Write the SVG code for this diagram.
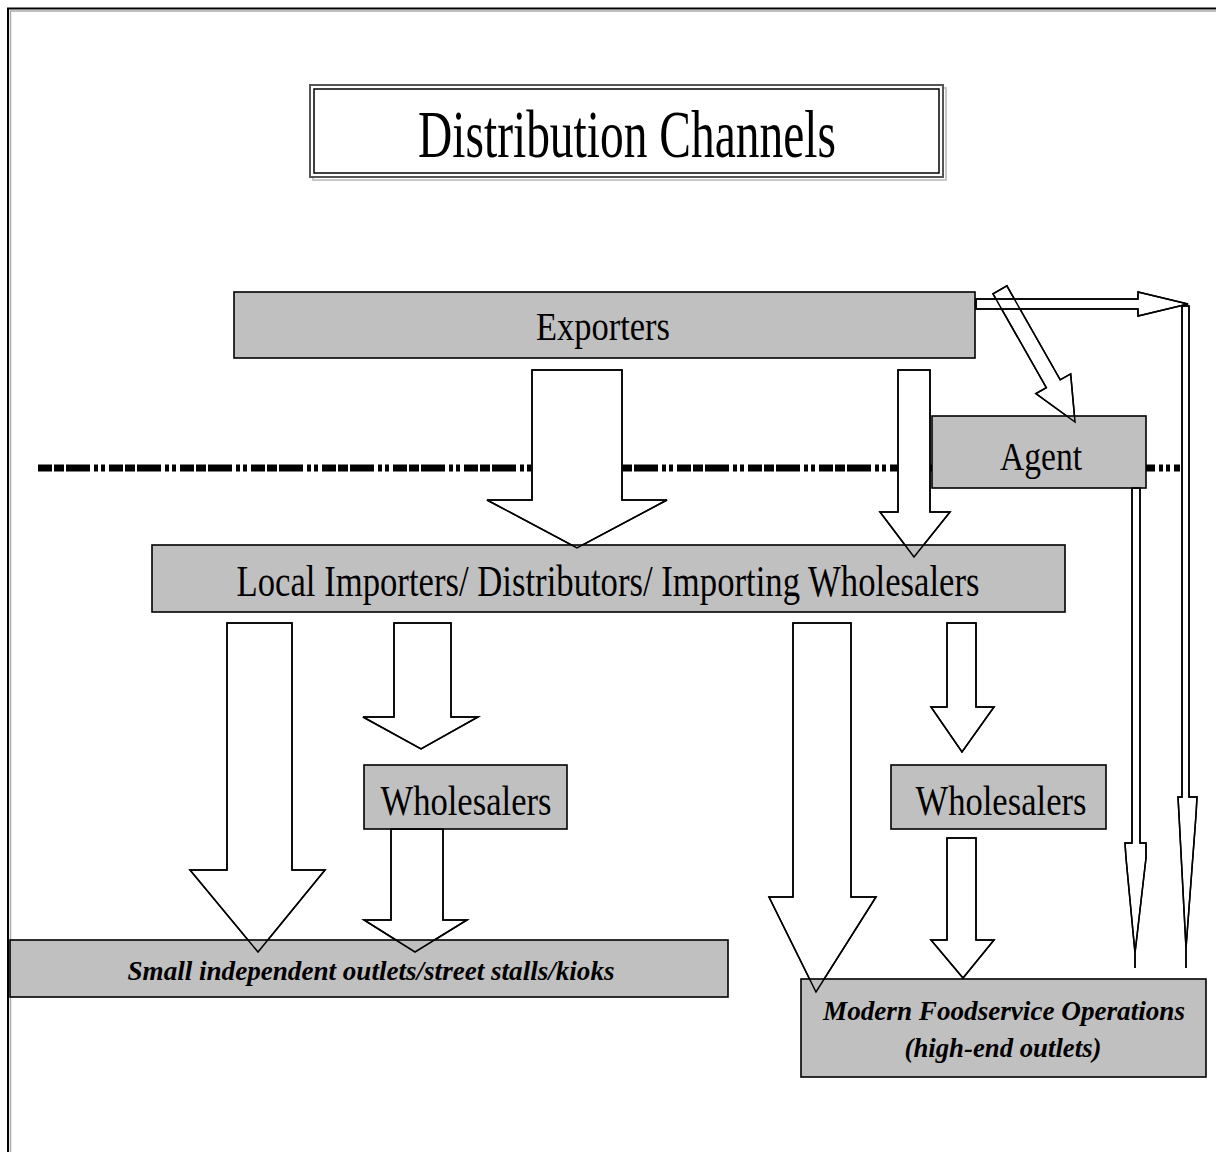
<svg xmlns="http://www.w3.org/2000/svg" xmlns:xlink="http://www.w3.org/1999/xlink" width="1216" height="1152" viewBox="0 0 1216 1152">
<style>
.box{fill:#c0c0c0;stroke:#000;stroke-width:1.6}
.lbl{font-family:"Liberation Serif","Times New Roman",serif;fill:#000;text-anchor:middle}
.it{font-style:italic;font-weight:bold}
.dash{stroke:#000;stroke-width:7;fill:none;stroke-dasharray:14 2 10 2 24 4 4 3 4 4}
</style>
<rect width="1216" height="1152" fill="#fff"/>
<g id="frame">
<path d="M8 1152 V8.5 H1216" fill="none" stroke="#000" stroke-width="2"/>
<path d="M10.5 1152 V11 H1216" fill="none" stroke="#aaa" stroke-width="1.5"/>
</g>
<g id="title">
<rect x="313" y="88" width="633" height="92" fill="none" stroke="#c8c8c8" stroke-width="2"/>
<rect x="310" y="85" width="633" height="92" fill="#fff" stroke="#555" stroke-width="2"/>
<rect x="314" y="89" width="625" height="84" fill="none" stroke="#000" stroke-width="1.5"/>
<text class="lbl" x="627" y="157" font-size="68" textLength="418" lengthAdjust="spacingAndGlyphs">Distribution Channels</text>
</g>
<line id="border-line" class="dash" x1="38" y1="468" x2="1180" y2="468"/>
<g fill="#fff">
<g id="connectors" stroke="#000" stroke-width="1.5" stroke-linejoin="miter">
<polygon points="532,370 622,370 622,500 667,500 577,548 487,500 532,500"/>
<polygon points="898,370 930,370 930,512 950,512 914,557 880,512 898,512"/>
<polygon transform="translate(1075,422) rotate(-29.6)" points="-8,-152 8,-152 8,-44 20,-44 0,0 -20,-44 -8,-44"/>
<polygon points="976,299 1138,299 1138,292 1188,304 1138,316 1138,309 976,309"/>
<polygon points="1182,306 1182,797 1178,797 1179,815 1186,948 1196,815 1197,797 1189,797 1189,306"/>
<line x1="1186" y1="948" x2="1186" y2="968"/>
<polygon points="1132,488 1132,843 1125,843 1126,858 1135,953 1146,858 1146,843 1140,843 1140,488"/>
<line x1="1135" y1="953" x2="1135" y2="968"/>
<polygon points="227,623 292,623 292,870 325,870 258,952 190,870 227,870"/>
<polygon points="394,623 451,623 451,717 478,717 421,749 363,717 394,717"/>
<polygon points="391,829 443,829 443,920 467,920 415,952 364,920 391,920"/>
<polygon points="793,623 851,623 851,897 876,897 816,992 769,897 793,897"/>
<polygon points="947,623 976,623 976,707 994,707 962,752 931,707 947,707"/>
<polygon points="947,838 976,838 976,940 994,940 963,978 931,940 947,940"/>
</g>
</g>
<g id="node-exporters">
<rect class="box" x="234" y="292" width="741" height="66"/>
<text class="lbl" x="603" y="340" font-size="40" textLength="134" lengthAdjust="spacingAndGlyphs">Exporters</text>
</g>
<g id="node-agent">
<rect class="box" x="932" y="416" width="214" height="72"/>
<text class="lbl" x="1041" y="470" font-size="40" textLength="82" lengthAdjust="spacingAndGlyphs">Agent</text>
</g>
<g id="node-local">
<rect class="box" x="152" y="545" width="913" height="67"/>
<text class="lbl" x="608" y="596" font-size="45" textLength="743" lengthAdjust="spacingAndGlyphs">Local Importers/ Distributors/ Importing Wholesalers</text>
</g>
<g id="node-wholesalers-left">
<rect class="box" x="364" y="765" width="203" height="64"/>
<text class="lbl" x="466" y="815" font-size="42" textLength="171" lengthAdjust="spacingAndGlyphs">Wholesalers</text>
</g>
<g id="node-wholesalers-right">
<rect class="box" x="891" y="765" width="215" height="64"/>
<text class="lbl" x="1001" y="815" font-size="42" textLength="171" lengthAdjust="spacingAndGlyphs">Wholesalers</text>
</g>
<g id="node-small">
<rect class="box" x="10" y="940" width="718" height="57"/>
<text class="lbl it" x="371" y="980" font-size="28" textLength="487" lengthAdjust="spacingAndGlyphs">Small independent outlets/street stalls/kioks</text>
</g>
<g id="node-modern">
<rect class="box" x="801" y="979" width="405" height="98" stroke-width="2.2"/>
<text class="lbl it" x="1004" y="1020" font-size="28" textLength="362" lengthAdjust="spacingAndGlyphs">Modern Foodservice Operations</text>
<text class="lbl it" x="1003" y="1057" font-size="28" textLength="197" lengthAdjust="spacingAndGlyphs">(high-end outlets)</text>
</g>
<use id="connector-outlines" xlink:href="#connectors" href="#connectors" fill="none"/>
</svg>
